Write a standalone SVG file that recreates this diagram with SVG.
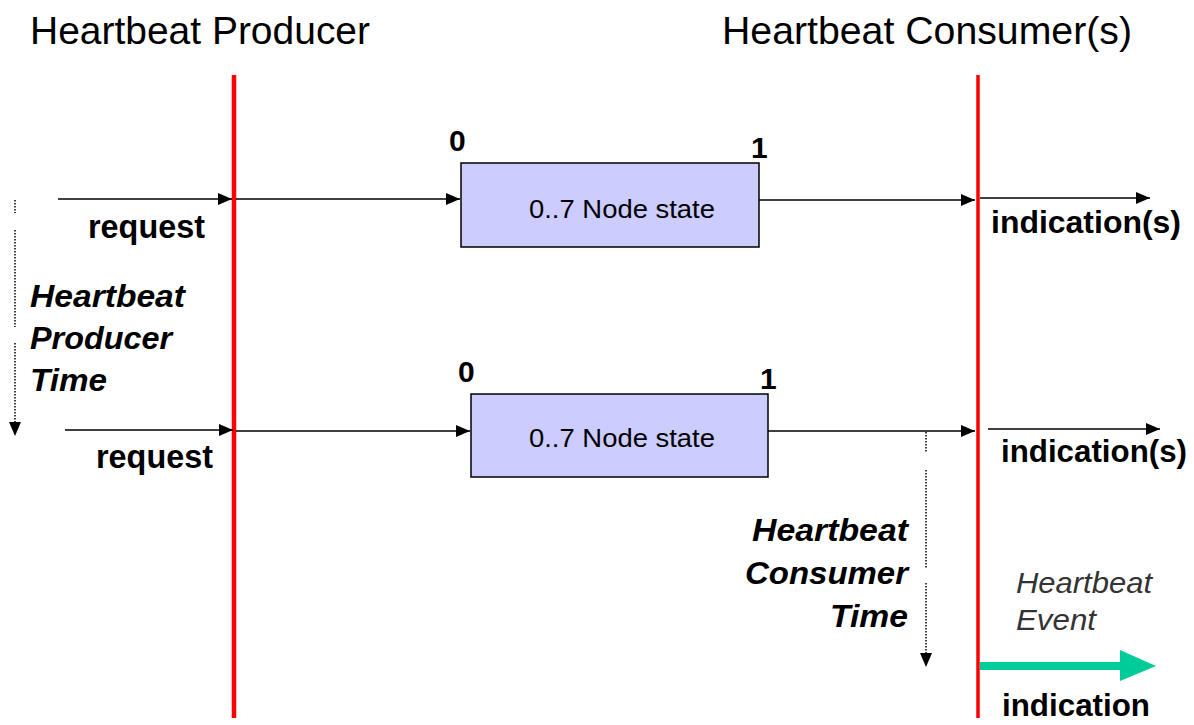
<svg xmlns="http://www.w3.org/2000/svg" width="1194" height="725" viewBox="0 0 1194 725">
<defs>
<marker id="ah" markerWidth="14" markerHeight="12" refX="14" refY="6" orient="auto" markerUnits="userSpaceOnUse"><path d="M0,0 L14,6 L0,12 Z" fill="#000"/></marker>
</defs>
<style>
text{font-family:"Liberation Sans",Arial,sans-serif;fill:#000}
.title{font-size:39px}
.lbl{font-size:34px;font-weight:bold}
.ind{font-size:32px}
.num{font-size:30px;font-weight:bold}
.it{font-size:32px;font-weight:bold;font-style:italic}
.ev{font-size:29px;font-style:italic;fill:#333}
.box{fill:#ccccff;stroke:#000;stroke-width:1.5}
.bt{font-size:25px}
.ln{stroke:#000;stroke-width:1.5;fill:none}
.dot{stroke:#000;stroke-width:1.5;stroke-dasharray:1.5 1.5;fill:none}
.red{stroke:#ff0000;fill:none}
</style>
<rect width="1194" height="725" fill="#fff"/>
<g id="titles">
<text class="title" x="30" y="44" textLength="340" lengthAdjust="spacingAndGlyphs">Heartbeat Producer</text>
<text class="title" x="722" y="44" textLength="410" lengthAdjust="spacingAndGlyphs">Heartbeat Consumer(s)</text>
</g>
<g id="producer-line"><line class="red" x1="234" y1="75" x2="234" y2="718" stroke-width="4.5"/></g>
<g id="consumer-line"><line class="red" x1="978" y1="75" x2="978" y2="718" stroke-width="3.5"/></g>
<g id="box1">
<rect class="box" x="461" y="163" width="298" height="84"/>
<text class="bt" x="529" y="218" textLength="186" lengthAdjust="spacingAndGlyphs">0..7 Node state</text>
<text class="num" x="449" y="151">0</text>
<text class="num" x="751" y="158">1</text>
</g>
<g id="box2">
<rect class="box" x="471" y="394" width="297" height="83"/>
<text class="bt" x="529" y="447" textLength="186" lengthAdjust="spacingAndGlyphs">0..7 Node state</text>
<text class="num" x="458" y="382">0</text>
<text class="num" x="760" y="389">1</text>
</g>
<g id="connectors">
<line class="ln" x1="58" y1="199" x2="232" y2="199" marker-end="url(#ah)"/>
<line class="ln" x1="236" y1="199" x2="460" y2="199" marker-end="url(#ah)"/>
<line class="ln" x1="759" y1="200" x2="975" y2="200" marker-end="url(#ah)"/>
<line class="ln" x1="980" y1="198" x2="1150" y2="198" marker-end="url(#ah)"/>
<line class="ln" x1="65" y1="430" x2="233" y2="430" marker-end="url(#ah)"/>
<line class="ln" x1="236" y1="431" x2="470" y2="431" marker-end="url(#ah)"/>
<line class="ln" x1="768" y1="431" x2="975" y2="431" marker-end="url(#ah)"/>
<line class="ln" x1="988" y1="429" x2="1160" y2="429" marker-end="url(#ah)"/>
<path class="dot" d="M15,200 V213 M15,230 V327 M15,343 V422"/>
<path d="M9,422 L21,422 L15,436 Z" fill="#000"/>
<path class="dot" d="M926,432 V453 M926,470 V568 M926,583 V653"/>
<path d="M920,653 L932,653 L926,667 Z" fill="#000"/>
<line x1="980" y1="666" x2="1122" y2="666" stroke="#00cc99" stroke-width="8"/>
<path d="M1120,650 L1156,666 L1120,681 Z" fill="#00cc99"/>
</g>
<g id="labels">
<text class="lbl" x="88" y="238" textLength="117" lengthAdjust="spacingAndGlyphs">request</text>
<text class="lbl" x="96" y="468" textLength="117" lengthAdjust="spacingAndGlyphs">request</text>
<text class="lbl ind" x="991" y="233" textLength="190" lengthAdjust="spacingAndGlyphs">indication(s)</text>
<text class="lbl ind" x="1001" y="462" textLength="186" lengthAdjust="spacingAndGlyphs">indication(s)</text>
<text class="lbl ind" x="1002" y="716" textLength="148" lengthAdjust="spacingAndGlyphs">indication</text>
<text class="it" x="30" y="307" textLength="155" lengthAdjust="spacingAndGlyphs">Heartbeat</text>
<text class="it" x="30" y="349" textLength="142" lengthAdjust="spacingAndGlyphs">Producer</text>
<text class="it" x="30" y="391" textLength="77" lengthAdjust="spacingAndGlyphs">Time</text>
<text class="it" x="752" y="541" textLength="156" lengthAdjust="spacingAndGlyphs">Heartbeat</text>
<text class="it" x="745" y="584" textLength="163" lengthAdjust="spacingAndGlyphs">Consumer</text>
<text class="it" x="830" y="627" textLength="78" lengthAdjust="spacingAndGlyphs">Time</text>
<text class="ev" x="1016" y="593" textLength="136" lengthAdjust="spacingAndGlyphs">Heartbeat</text>
<text class="ev" x="1016" y="630" textLength="80" lengthAdjust="spacingAndGlyphs">Event</text>
</g>
</svg>
